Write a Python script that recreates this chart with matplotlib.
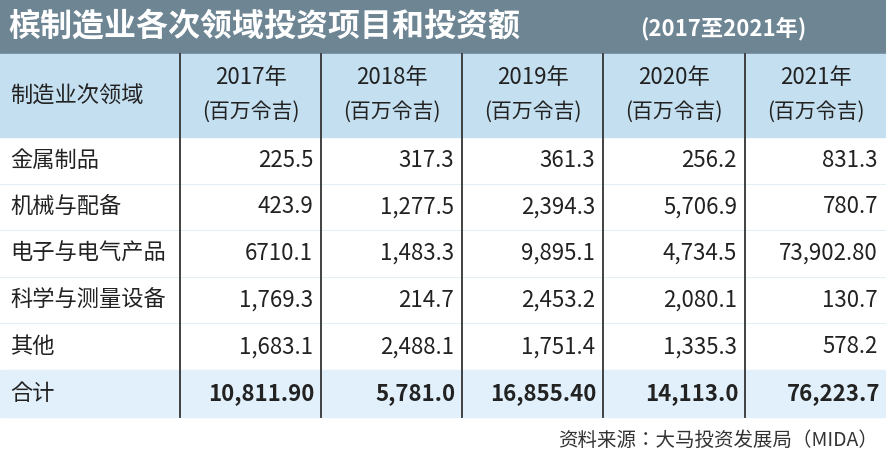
import matplotlib.pyplot as plt
from matplotlib.patches import Rectangle

plt.rcParams['font.family'] = ['Noto Sans CJK JP', 'Noto Sans CJK SC', 'Noto Sans CJK TC',
                               'Noto Sans CJK KR', 'DejaVu Sans']

title = "槟制造业各次领域投资项目和投资额"
title_years = "(2017至2021年)"
first_header = "制造业次领域"
years = ["2017年", "2018年", "2019年", "2020年", "2021年"]
unit = "(百万令吉)"
sectors = ["金属制品", "机械与配备", "电子与电气产品", "科学与测量设备", "其他"]
values = [
    ["225.5", "317.3", "361.3", "256.2", "831.3"],
    ["423.9", "1,277.5", "2,394.3", "5,706.9", "780.7"],
    ["6710.1", "1,483.3", "9,895.1", "4,734.5", "73,902.80"],
    ["1,769.3", "214.7", "2,453.2", "2,080.1", "130.7"],
    ["1,683.1", "2,488.1", "1,751.4", "1,335.3", "578.2"],
]
total_label = "合计"
totals = ["10,811.90", "5,781.0", "16,855.40", "14,113.0", "76,223.7"]
source = "资料来源：大马投资发展局（MIDA）"

W, H = 886, 455
fig = plt.figure(figsize=(W / 100, H / 100), dpi=100)
ax = fig.add_axes([0, 0, 1, 1])
ax.set_xlim(0, W)
ax.set_ylim(H, 0)
ax.axis('off')

col_x = [0, 180, 321, 462, 603, 745, 886]
title_bottom = 54
header_bottom = 137
row_h = 46.6
table_bottom = header_bottom + row_h * 6

# title bar
ax.add_patch(Rectangle((0, 0), W, title_bottom, color='#6e8694'))
ax.text(8, 27, title, color='white', fontsize=23, fontweight='bold', va='center', ha='left')
ax.text(640, 29, title_years, color='white', fontsize=16, fontweight='bold', va='center', ha='left')

# header
ax.add_patch(Rectangle((0, title_bottom), W, header_bottom - title_bottom, color='#c4dff0'))
ax.text(10, 96, first_header, fontsize=16, va='center', ha='left', color='#222222')
for i, y in enumerate(years):
    cx = (col_x[i + 1] + col_x[i + 2]) / 2
    ax.text(cx, 78, y, fontsize=16, va='center', ha='center', color='#222222')
    ax.text(cx, 112, unit, fontsize=15, va='center', ha='center', color='#222222')

# body rows
for r, (name, row) in enumerate(zip(sectors, values)):
    yc = header_bottom + row_h * (r + 0.5)
    ax.text(10, yc, name, fontsize=16, va='center', ha='left', color='#222222')
    for i, v in enumerate(row):
        ax.text(col_x[i + 2] - 8, yc, v, fontsize=16, va='center', ha='right', color='#222222')
    if r > 0:
        ax.plot([0, W], [header_bottom + row_h * r] * 2, color='#e3eef5', lw=0.8)

# total row
ty = header_bottom + row_h * 5
ax.add_patch(Rectangle((0, ty), W, row_h, color='#e1f0fa'))
ax.text(10, ty + row_h / 2, total_label, fontsize=16, va='center', ha='left', color='#222222')
for i, v in enumerate(totals):
    ax.text(col_x[i + 2] - 6, ty + row_h / 2, v, fontsize=16, fontweight='bold',
            va='center', ha='right', color='#222222')

# vertical separators
for x in col_x[1:-1]:
    ax.plot([x, x], [title_bottom, table_bottom], color='#333333', lw=1.3)

ax.text(878, 440, source, fontsize=14, va='center', ha='right', color='#333333')

fig.savefig('out.png', dpi=100)
